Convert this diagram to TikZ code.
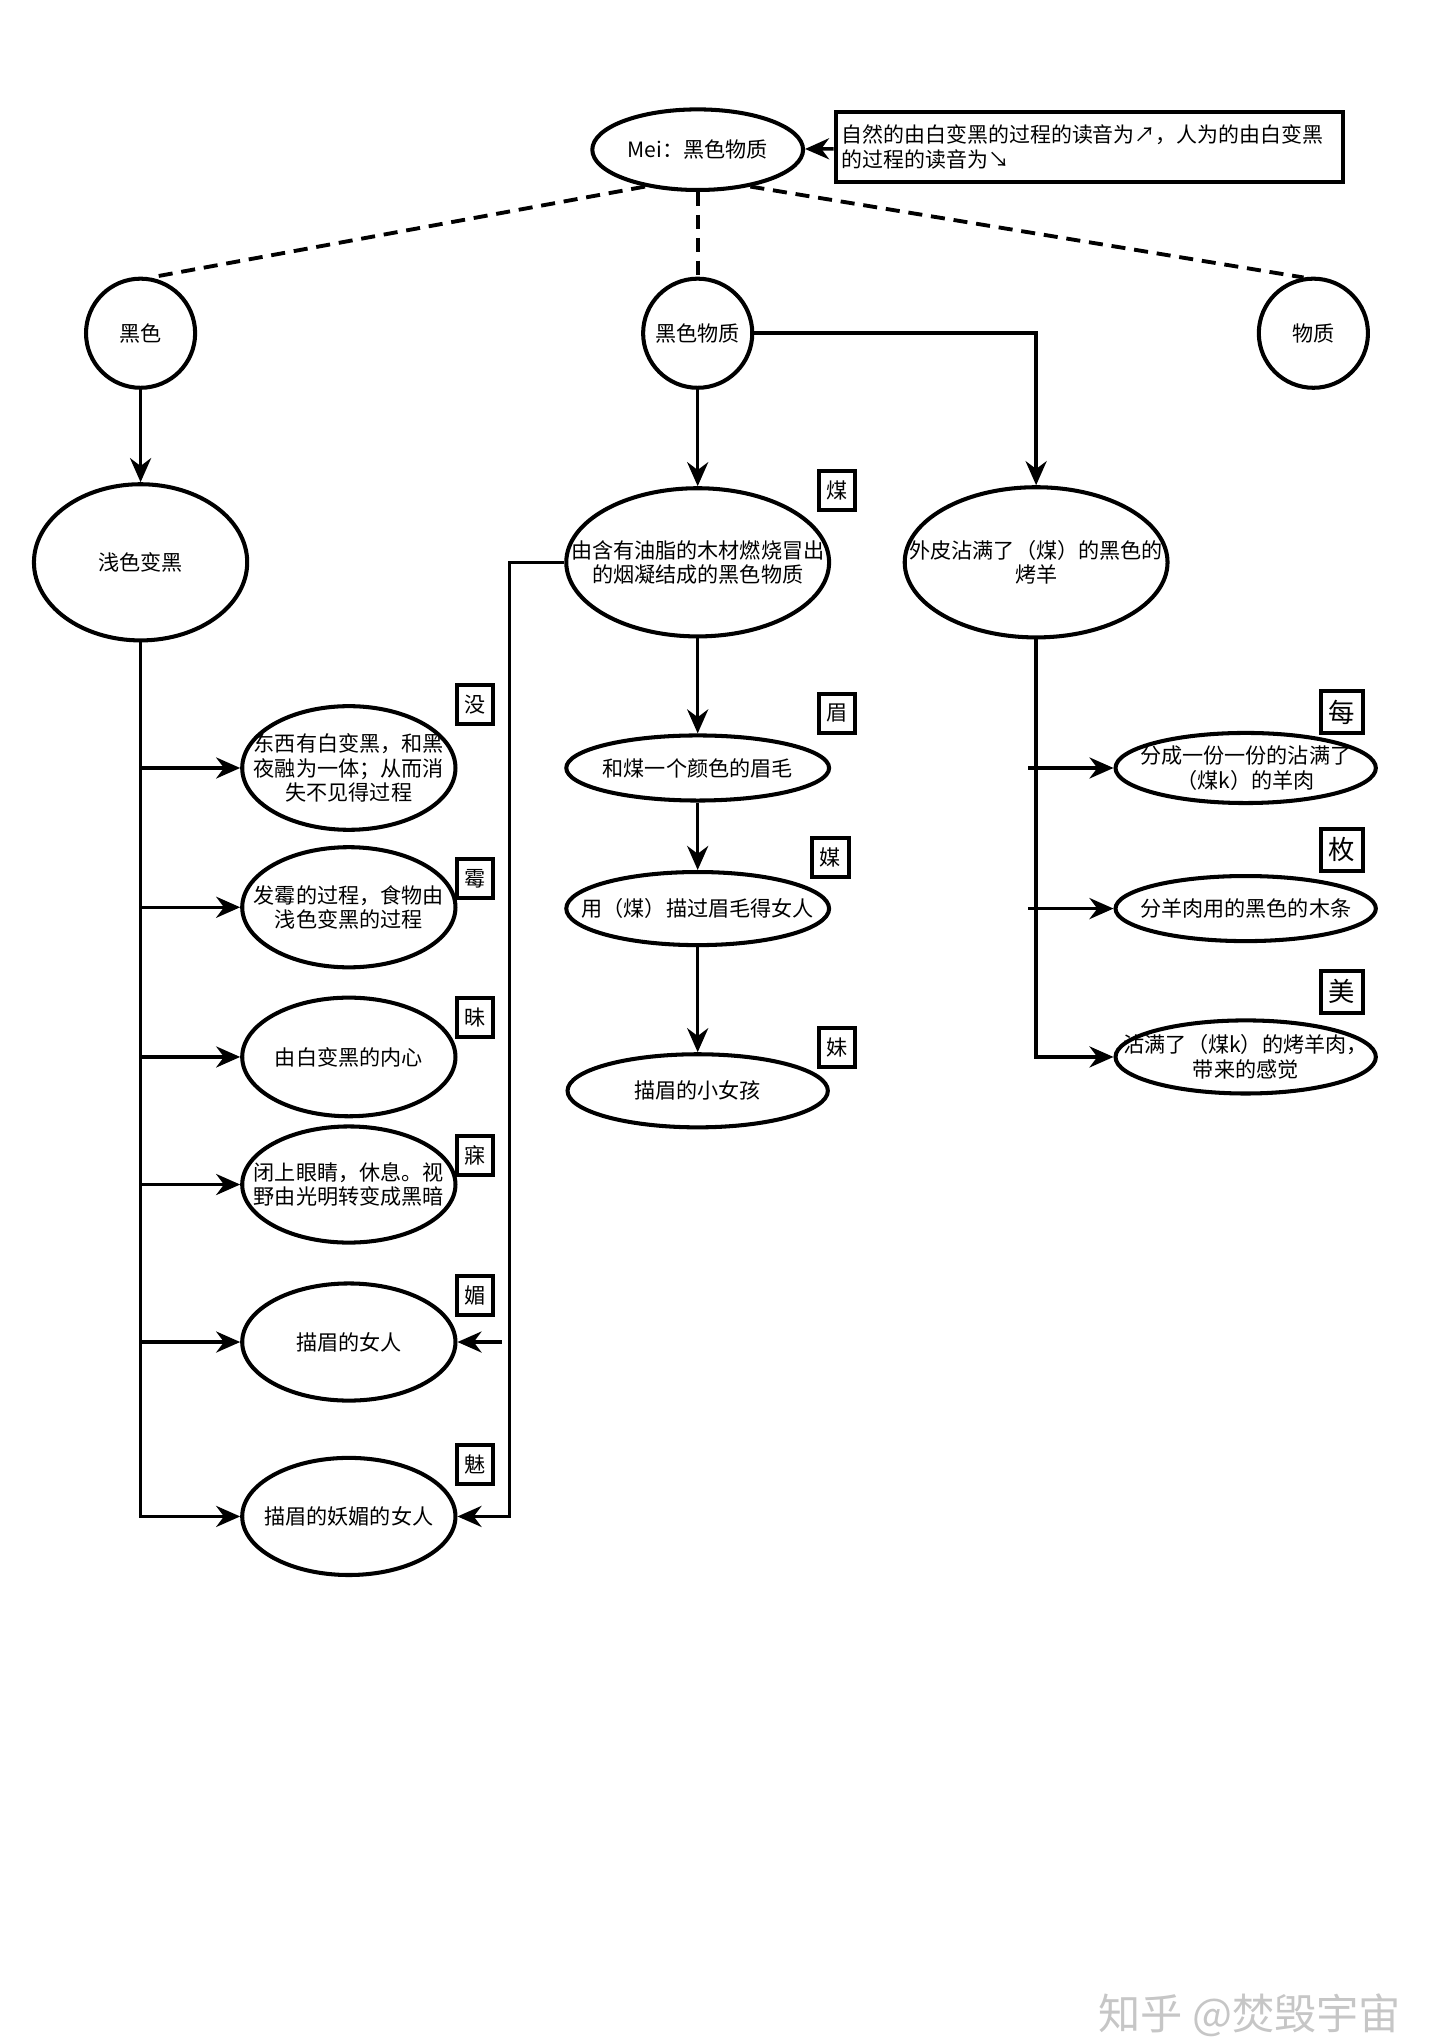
\documentclass[tikz,border=0pt]{standalone}
\usepackage{fontspec}
\setmainfont{Noto Sans CJK SC}
\usetikzlibrary{arrows.meta,positioning,shapes.geometric,calc}

\begin{document}
\begin{tikzpicture}[x=0.026cm, y=-0.026cm,
  every node/.style={font=\fontsize{12}{14}\selectfont},
  oval/.style={draw,ellipse,line width=2.3pt,inner sep=0pt},
  txt/.style={label={[align=center]center:#1}},
  charbox/.style={draw,line width=2.3pt,minimum width=0.73cm,minimum height=0.78cm,inner sep=0pt},
  bigbox/.style={charbox,minimum width=0.83cm,minimum height=0.83cm,font=\fontsize{15}{17}\selectfont},
  arr/.style={line width=2pt,-{Stealth[length=0.48cm,width=0.42cm]}},
  wire/.style={line width=2pt},
  loose/.style={line width=2.2pt,dash pattern=on 8pt off 5pt}]
  \useasboundingbox (0,0) rectangle (1106,1568);

  % top
  \node[oval,minimum width=4.21cm,minimum height=1.61cm,txt={Mei：黑色物质}] (mei) at (536,115) {};
  \node[draw,line width=2.3pt,text width=9.9cm,minimum height=1.4cm,align=left,inner sep=0.12cm,
    font=\fontsize{11.9}{14}\selectfont] (note) at (837,113)
    {自然的由白变黑的过程的读音为↗，人为的由白变黑\\的过程的读音为↘};
  \draw[arr] (note) -- (mei);

  \node[oval,minimum size=2.18cm,txt={黑色}] (hei) at (108,256) {};
  \node[oval,minimum size=2.18cm,txt={黑色物质}] (blk) at (536,256) {};
  \node[oval,minimum size=2.18cm,txt={物质}] (mat) at (1009,256) {};
  \draw[loose] (mei.215) -- (hei.80);
  \draw[loose] (mei.south) -- (blk.north);
  \draw[loose] (mei.325) -- (mat.100);

  \node[oval,minimum width=4.26cm,minimum height=3.12cm,txt={浅色变黑}] (light) at (108,432) {};
  \node[oval,minimum width=5.25cm,minimum height=2.96cm,
    txt={由含有油脂的木材燃烧冒出\\的烟凝结成的黑色物质}] (oil) at (536,432) {};
  \node[oval,minimum width=5.25cm,minimum height=3.0cm,
    txt={外皮沾满了（煤）的黑色的\\烤羊}] (lamb) at (796,432) {};
  \node[charbox] (tmei) at (643,377) {煤};
  \draw[arr] (hei) -- (light);
  \draw[arr] (blk) -- (oil);
  \draw[arr] (blk.east) -| (lamb.north);

  % left column
  \node[oval,minimum width=4.26cm,minimum height=2.47cm,
    txt={东西有白变黑，和黑\\夜融为一体；从而消\\失不见得过程}] (vanish) at (268,590) {};
  \node[oval,minimum width=4.26cm,minimum height=2.4cm,
    txt={发霉的过程，食物由\\浅色变黑的过程}] (mould) at (268,697) {};
  \node[oval,minimum width=4.26cm,minimum height=2.37cm,txt={由白变黑的内心}] (heart) at (268,812) {};
  \node[oval,minimum width=4.26cm,minimum height=2.32cm,
    txt={闭上眼睛，休息。视\\野由光明转变成黑暗}] (sleep) at (268,910) {};
  \node[oval,minimum width=4.26cm,minimum height=2.34cm,txt={描眉的女人}] (woman) at (268,1031) {};
  \node[oval,minimum width=4.26cm,minimum height=2.34cm,txt={描眉的妖媚的女人}] (charm) at (268,1165) {};
  \node[charbox] (tmo) at (365,541) {没};
  \node[charbox] (tmould) at (365,675) {霉};
  \node[charbox] (tmeiA) at (365,782) {昧};
  \node[charbox] (tmeiB) at (365,888) {寐};
  \node[charbox] (tmeiC) at (365,995) {媚};
  \node[charbox] (tmeiD) at (365,1125) {魅};

  \draw[arr] (light.south) |- (charm.west);
  \foreach \n in {vanish,mould,heart,sleep,woman}
    \draw[arr] (light.south |- \n.west) -- (\n.west);
  \coordinate (bend) at ($(oil.west)+(-42,0)$);
  \draw[arr] (oil.west) -- (bend) |- (charm.east);
  \draw[arr] ($(bend |- woman.east)+(-6,0)$) -- (woman.east);

  % middle column
  \node[oval,minimum width=5.25cm,minimum height=1.3cm,txt={和煤一个颜色的眉毛}] (brow) at (536,590) {};
  \node[oval,minimum width=5.25cm,minimum height=1.46cm,txt={用（煤）描过眉毛得女人}] (ink) at (536,698) {};
  \node[oval,minimum width=5.2cm,minimum height=1.46cm,txt={描眉的小女孩}] (girl) at (536,838) {};
  \node[charbox] (tbrow) at (643,548) {眉};
  \node[charbox] (tink) at (638,659) {媒};
  \node[charbox] (tgirl) at (643,805) {妹};
  \draw[arr] (oil) -- (brow);
  \draw[arr] (brow) -- (ink);
  \draw[arr] (ink) -- (girl);

  % right column
  \node[oval,minimum width=5.2cm,minimum height=1.4cm,
    txt={分成一份一份的沾满了\\（煤k）的羊肉}] (share) at (957,590) {};
  \node[oval,minimum width=5.2cm,minimum height=1.3cm,txt={分羊肉用的黑色的木条}] (stick) at (957,698) {};
  \node[oval,minimum width=5.2cm,minimum height=1.46cm,
    txt={沾满了（煤k）的烤羊肉，\\带来的感觉}] (taste) at (957,812) {};
  \node[bigbox] (tshare) at (1031,547) {每};
  \node[bigbox] (tstick) at (1031,653) {枚};
  \node[bigbox] (ttaste) at (1031,762) {美};
  \draw[arr] (lamb.south) |- (taste.west);
  \foreach \n in {share,stick}
    \draw[arr] ($(lamb.south |- \n.west)+(-6,0)$) -- (\n.west);

  \node[font=\fontsize{24}{28}\selectfont,text=gray!45] (wm) at (960,1548) {知乎 @焚毁宇宙};
\end{tikzpicture}
\end{document}
